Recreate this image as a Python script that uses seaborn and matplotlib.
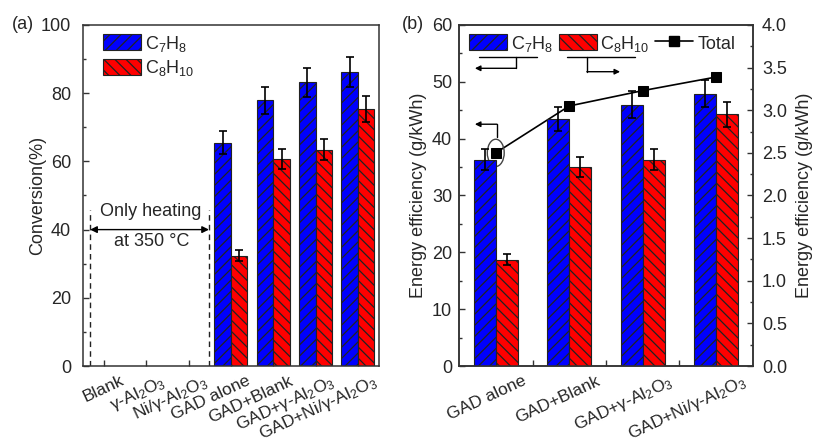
import numpy as np
import pandas as pd
import matplotlib
matplotlib.use("Agg")
import matplotlib.pyplot as plt
import matplotlib.transforms as mtransforms
import seaborn as sns
from matplotlib.patches import Patch, Ellipse
from matplotlib.lines import Line2D
from matplotlib.ticker import MultipleLocator, FormatStrFormatter, FixedLocator

# ---------------- data ----------------
species = ["C7H8", "C8H10"]
species_labels = ["C$_7$H$_8$", "C$_8$H$_{10}$"]

cats_a = ["Blank", "γ-Al$_2$O$_3$", "Ni/γ-Al$_2$O$_3$", "GAD alone", "GAD+Blank",
          "GAD+γ-Al$_2$O$_3$", "GAD+Ni/γ-Al$_2$O$_3$"]
conv_c7h8 = [np.nan, np.nan, np.nan, 65.5, 77.9, 83.2, 86.2]
conv_c7h8_err = [np.nan, np.nan, np.nan, 3.3, 4.0, 4.2, 4.4]
conv_c8h10 = [np.nan, np.nan, np.nan, 32.3, 60.7, 63.4, 75.4]
conv_c8h10_err = [np.nan, np.nan, np.nan, 1.6, 2.9, 3.1, 3.8]

cats_b = ["GAD alone", "GAD+Blank", "GAD+γ-Al$_2$O$_3$", "GAD+Ni/γ-Al$_2$O$_3$"]
eff_c7h8 = [36.3, 43.4, 46.0, 47.9]
eff_c7h8_err = [1.8, 2.1, 2.3, 2.4]
eff_c8h10 = [18.7, 35.0, 36.3, 44.3]
eff_c8h10_err = [1.0, 1.8, 1.8, 2.2]
eff_total = [2.50, 3.05, 3.23, 3.39]

# ---------------- style ----------------
sns.set_style("ticks")
plt.rcParams["font.family"] = ["Liberation Sans", "DejaVu Sans"]
plt.rcParams["mathtext.fontset"] = "custom"
plt.rcParams["mathtext.rm"] = "Liberation Sans"
plt.rcParams["mathtext.it"] = "Liberation Sans:italic"
plt.rcParams["mathtext.default"] = "rm"
plt.rcParams["font.size"] = 13
plt.rcParams["hatch.linewidth"] = 0.9

FS = 13
XFS = 12.5
SPINE = "#333333"
colors = {"C7H8": "#0000FF", "C8H10": "#FF0000"}
hatches = {"C7H8": "///", "C8H10": "\\\\\\"}

fig = plt.figure(figsize=(8.15, 4.43), dpi=100)
axa = fig.add_axes([0.1018, 0.1738, 0.3632, 0.7698])
axb = fig.add_axes([0.5632, 0.1738, 0.3607, 0.7698])


def long_df(cats, s1, s2):
    rows = []
    for c, v in zip(cats, s1):
        if not np.isnan(v):
            rows.append((c, "C7H8", v))
    for c, v in zip(cats, s2):
        if not np.isnan(v):
            rows.append((c, "C8H10", v))
    return pd.DataFrame(rows, columns=["cat", "species", "value"])


def draw_bars(ax, cats, s1, e1, s2, e2, width):
    df = long_df(cats, s1, s2)
    sns.barplot(data=df, x="cat", y="value", hue="species", order=cats,
                hue_order=species, palette=colors, saturation=1, width=width,
                gap=0, errorbar=None, legend=False, ax=ax,
                edgecolor="#222222", linewidth=0.8)
    errs = {"C7H8": e1, "C8H10": e2}
    for p in ax.patches:
        h = p.get_height()
        if np.isnan(h) or h == 0:
            continue
        xc = p.get_x() + p.get_width() / 2
        i = int(round(xc))
        sp = "C7H8" if xc < i else "C8H10"
        p.set_hatch(hatches[sp])
        ax.errorbar(xc, h, yerr=errs[sp][i], color="black", capsize=3,
                    elinewidth=1.2, capthick=1.2, fmt="none", zorder=4)
    ax.set_xlabel("")
    ax.set_ylabel("")


def style_axis(ax):
    for s in ax.spines.values():
        s.set_visible(True)
        s.set_color(SPINE)
        s.set_linewidth(1.1)
    ax.set_axisbelow(True)


def xlabels(ax, cats, dx_px, dy_px):
    ax.set_xticklabels([])
    trans = mtransforms.blended_transform_factory(ax.transData, ax.transAxes)
    off = mtransforms.ScaledTranslation(dx_px / 100, -dy_px / 100, fig.dpi_scale_trans)
    for i, c in enumerate(cats):
        ax.text(i, 0, c, transform=trans + off, rotation=25, ha="right",
                va="top", fontsize=XFS)


# ---------------- panel (a) ----------------
draw_bars(axa, cats_a, conv_c7h8, conv_c7h8_err, conv_c8h10, conv_c8h10_err, 0.78)
axa.set_xlim(-0.5, 6.5)
axa.set_ylim(0, 100)
style_axis(axa)
axa.yaxis.set_major_locator(MultipleLocator(20))
axa.yaxis.set_minor_locator(MultipleLocator(10))
axa.set_xticks(range(len(cats_a)))
axa.tick_params(axis="both", which="both", direction="in", top=False, right=False,
                color=SPINE, labelsize=FS)
axa.tick_params(axis="both", which="major", length=4, width=1.0)
axa.tick_params(axis="y", which="major", pad=8.5)
axa.tick_params(axis="y", which="minor", length=2.5, width=1.0)
xlabels(axa, cats_a, 22, 7)
axa.set_ylabel("Conversion(%)", fontsize=FS)
axa.yaxis.set_label_coords(-0.125, 0.5)
axa.yaxis.label.set_va("bottom")

leg_handles = [Patch(facecolor=colors[s], edgecolor="#222222", hatch=hatches[s], linewidth=0.8)
               for s in species]
axa.legend(leg_handles, species_labels, loc="upper left", bbox_to_anchor=(0.0676, 0.975),
           frameon=False, fontsize=FS, handlelength=2.1, handleheight=1.0,
           handletextpad=0.25, labelspacing=0.25, borderpad=0, borderaxespad=0)

# "only heating" annotation
for xv in (-0.33, 2.48):
    axa.plot([xv, xv], [0, 45.7], color="#222222", lw=1.0, dashes=(4, 3))
axa.annotate("", xy=(-0.33, 40), xytext=(2.48, 40),
             arrowprops=dict(arrowstyle="<|-|>", color="black", lw=1.0,
                             mutation_scale=10, shrinkA=0, shrinkB=0))
axa.text(1.10, 45.2, "Only heating", ha="center", va="center", fontsize=FS)
axa.text(1.12, 36.5, "at 350 °C", ha="center", va="center", fontsize=FS)

fig.text(0.015, 0.9436, "(a)", ha="left", va="center", fontsize=FS)

# ---------------- panel (b) ----------------
draw_bars(axb, cats_b, eff_c7h8, eff_c7h8_err, eff_c8h10, eff_c8h10_err, 0.6)
axb.set_xlim(-0.5, 3.5)
axb.set_ylim(0, 60)
style_axis(axb)
axb.yaxis.set_major_locator(MultipleLocator(10))
axb.yaxis.set_minor_locator(MultipleLocator(5))
axb.xaxis.set_major_locator(FixedLocator([0.5, 1.5, 2.5]))
axb.tick_params(axis="both", which="both", direction="in", top=False, right=False,
                color=SPINE, labelsize=FS)
axb.tick_params(axis="both", which="major", length=4, width=1.0)
axb.tick_params(axis="y", which="major", pad=5)
axb.tick_params(axis="y", which="minor", length=2.5, width=1.0)
xlabels(axb, cats_b, 33, 7)
axb.set_ylabel("Energy efficiency (g/kWh)", fontsize=FS)
axb.yaxis.set_label_coords(-0.11, 0.5)
axb.yaxis.label.set_va("bottom")

ax2 = axb.twinx()
sns.lineplot(x=np.arange(len(eff_total)), y=eff_total, ax=ax2, color="black",
             marker="s", markersize=7.5, markeredgecolor="black", linewidth=1.2,
             zorder=5)
ax2.set_ylim(0, 4)
ax2.yaxis.set_major_locator(MultipleLocator(0.5))
ax2.yaxis.set_minor_locator(MultipleLocator(0.25))
ax2.yaxis.set_major_formatter(FormatStrFormatter("%.1f"))
ax2.tick_params(axis="y", which="both", direction="in", color=SPINE, labelsize=FS)
ax2.tick_params(axis="y", which="major", length=4, width=1.0, pad=6.5)
ax2.tick_params(axis="y", which="minor", length=2.5, width=1.0)
for s in ax2.spines.values():
    s.set_color(SPINE)
    s.set_linewidth(1.1)
ax2.set_xlabel("")
ax2.set_ylabel("Energy efficiency (g/kWh)", fontsize=FS)
ax2.yaxis.set_label_coords(1.145, 0.5)

# ellipse around first total point
ax2.add_patch(Ellipse((0, eff_total[0]), width=0.23, height=0.32, fill=False,
                      edgecolor="#444444", lw=1.0, zorder=6))

# legend (b)
hb = leg_handles + [Line2D([0], [0], color="black", lw=1.2, marker="s", markersize=7.5)]
axb.legend(hb, species_labels + ["Total"], loc="upper left", bbox_to_anchor=(0.034, 0.975),
           ncol=3, frameon=False, fontsize=FS, handlelength=2.1, handleheight=1.0,
           handletextpad=0.22, columnspacing=0.3, borderpad=0, borderaxespad=0)
axb.set_zorder(ax2.get_zorder() + 1)
axb.patch.set_visible(False)

# arrows indicating axes
T = axb.transAxes
axb.plot([0.068, 0.265], [0.907, 0.907], color="black", lw=1.0, transform=T, clip_on=False)
axb.plot([0.194, 0.194], [0.907, 0.873], color="black", lw=1.0, transform=T, clip_on=False)
axb.annotate("", xy=(0.054, 0.873), xytext=(0.194, 0.873), xycoords=T, textcoords=T,
             arrowprops=dict(arrowstyle="-|>", color="black", lw=1.0, mutation_scale=8,
                             shrinkA=0, shrinkB=0))
axb.plot([0.367, 0.599], [0.905, 0.905], color="black", lw=1.0, transform=T, clip_on=False)
axb.plot([0.435, 0.435], [0.905, 0.863], color="black", lw=1.0, transform=T, clip_on=False)
axb.annotate("", xy=(0.548, 0.863), xytext=(0.435, 0.863), xycoords=T, textcoords=T,
             arrowprops=dict(arrowstyle="-|>", color="black", lw=1.0, mutation_scale=8,
                             shrinkA=0, shrinkB=0))
axb.plot([0.129, 0.129], [0.672, 0.709], color="black", lw=1.0, transform=T, clip_on=False)
axb.annotate("", xy=(0.054, 0.709), xytext=(0.129, 0.709), xycoords=T, textcoords=T,
             arrowprops=dict(arrowstyle="-|>", color="black", lw=1.0, mutation_scale=8,
                             shrinkA=0, shrinkB=0))

fig.text(0.493, 0.9436, "(b)", ha="left", va="center", fontsize=FS)

fig.savefig("out.png", dpi=100)
